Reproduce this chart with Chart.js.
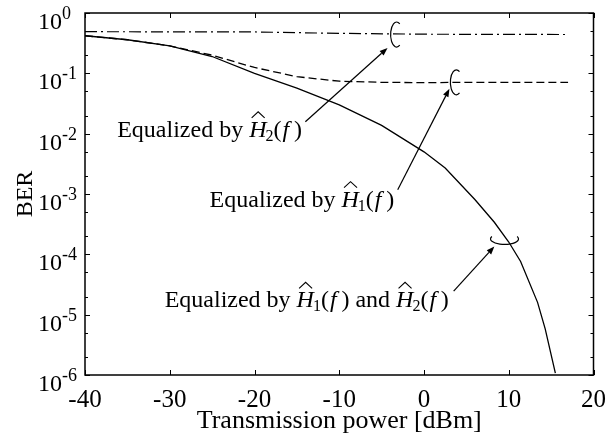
<!DOCTYPE html>
<html>
<head>
<meta charset="utf-8">
<script src="https://cdn.jsdelivr.net/npm/chart.js@4.4.1/dist/chart.umd.min.js"></script>
<style>
  html, body { margin: 0; padding: 0; background: #fff; }
  #wrap { width: 616px; height: 444px; }
</style>
</head>
<body>
<div id="wrap"><canvas id="c" width="616" height="444"></canvas></div>
<script>
// Transmission power [dBm] sample points and BER for each equalizer
const powerBoth = [-40, -35, -30, -25, -20, -15, -10, -5, 0, 2.5, 6, 8.3, 10, 11.4, 13.4, 14.3, 15.5];
const berBoth   = [0.42, 0.36, 0.285, 0.19, 0.10, 0.057, 0.030, 0.0137, 0.0050, 0.0027, 8.1e-4, 3.4e-4, 1.6e-4, 7.6e-5, 1.6e-5, 5.8e-6, 1.07e-6];

const powerH1 = [-40, -35, -30, -25, -20, -15, -10, -5, 0, 5, 10, 17];
const berH1   = [0.42, 0.36, 0.285, 0.20, 0.125, 0.088, 0.074, 0.071, 0.070, 0.071, 0.071, 0.071];

const powerH2 = [-40, -20, -10, 0, 17];
const berH2   = [0.49, 0.485, 0.46, 0.445, 0.44];

const xTicks = [-40, -30, -20, -10, 0, 10, 20];
const yExponents = [0, -1, -2, -3, -4, -5, -6];

const SERIF = '"Liberation Serif", "Times New Roman", serif';

function pts(xs, ys) { return xs.map((x, i) => ({ x: x, y: ys[i] })); }

// Callout anchors (data coordinates)
const curls = [
  { x: -3.35, y: 0.44, kind: 'left' },     // around the dash-dot curve
  { x: 3.7,   y: 0.071, kind: 'left' },    // around the dashed curve
  { x: 9.5,   y: 1.8e-4, kind: 'bottom' }  // around the solid curve
];
const arrows = [
  { from: { x: -14.0, y: 0.0158 }, to: { x: -4.3, y: 0.264 } },
  { from: { x: -3.1,  y: 0.00118 }, to: { x: 3.0, y: 0.0555 } },
  { from: { x: 3.5,   y: 2.45e-5 }, to: { x: 8.3, y: 1.35e-4 } }
];
const labels = [
  { x: -36.2, y: 0.0089, subs: ['2'] },
  { x: -25.3, y: 6.2e-4, subs: ['1'] },
  { x: -30.6, y: 1.33e-5, subs: ['1', '2'] }
];

function drawEqualized(ctx, x, y, subs) {
  const fs = 24;
  const roman = fs + 'px ' + SERIF;
  const italic = 'italic ' + fs + 'px ' + SERIF;
  const small = '16px ' + SERIF;
  ctx.fillStyle = '#000';
  ctx.textBaseline = 'alphabetic';
  ctx.textAlign = 'left';
  ctx.font = roman;
  ctx.fillText('Equalized by ', x, y);
  x += ctx.measureText('Equalized by ').width;
  subs.forEach((s, i) => {
    if (i > 0) {
      ctx.font = roman;
      ctx.fillText(' and ', x, y);
      x += ctx.measureText(' and ').width;
    }
    // hatted italic H
    ctx.font = italic;
    ctx.fillText('H', x, y);
    const wH = ctx.measureText('H').width;
    const capTop = y - 0.662 * fs;
    ctx.save();
    ctx.lineWidth = 1.1;
    ctx.strokeStyle = '#000';
    ctx.beginPath();
    ctx.moveTo(x + 2.5, capTop - 3);
    ctx.lineTo(x + 9, capTop - 9);
    ctx.lineTo(x + 15.5, capTop - 3);
    ctx.stroke();
    ctx.restore();
    x += wH - 1;
    ctx.font = small;
    ctx.fillText(s, x, y + 4);
    x += ctx.measureText(s).width;
    ctx.font = roman;
    ctx.fillText('(', x, y);
    x += ctx.measureText('(').width;
    ctx.font = italic;
    ctx.fillText('f', x + 1, y);
    x += ctx.measureText('f').width + 1;
    ctx.font = roman;
    ctx.fillText('\u2009)', x, y);
    x += ctx.measureText('\u2009)').width;
  });
}

const axesAndNotes = {
  id: 'axesAndNotes',
  afterDatasetsDraw(chart) {
    const ctx = chart.ctx;
    const xs = chart.scales.x, ys = chart.scales.y;
    const a = chart.chartArea;
    ctx.save();
    ctx.strokeStyle = '#000';
    ctx.fillStyle = '#000';

    // frame
    ctx.lineWidth = 1.5;
    ctx.strokeRect(a.left, a.top, a.right - a.left, a.bottom - a.top);

    // x ticks (inward, bottom and top)
    ctx.lineWidth = 1;
    ctx.beginPath();
    xTicks.forEach(v => {
      const px = Math.round(xs.getPixelForValue(v)) + 0.5;
      ctx.moveTo(px, a.bottom); ctx.lineTo(px, a.bottom - 5);
      ctx.moveTo(px, a.top); ctx.lineTo(px, a.top + 5);
    });
    // y ticks: decades and 2, 5 minors (inward, left and right)
    yExponents.forEach(e => {
      const py = Math.round(ys.getPixelForValue(Math.pow(10, e))) + 0.5;
      ctx.moveTo(a.left, py); ctx.lineTo(a.left + 5, py);
      ctx.moveTo(a.right, py); ctx.lineTo(a.right - 5, py);
      if (e < 0) {
        [2, 5].forEach(m => {
          const pm = Math.round(ys.getPixelForValue(m * Math.pow(10, e))) + 0.5;
          ctx.moveTo(a.left, pm); ctx.lineTo(a.left + 3, pm);
          ctx.moveTo(a.right, pm); ctx.lineTo(a.right - 3, pm);
        });
      }
    });
    ctx.stroke();

    // y tick labels 10^e : base "10" at a fixed left edge, exponent raised after it
    yExponents.forEach(e => {
      const py = ys.getPixelForValue(Math.pow(10, e));
      ctx.textBaseline = 'alphabetic';
      ctx.textAlign = 'left';
      const x0 = a.left - 47;
      ctx.font = '24px ' + SERIF;
      const wBase = ctx.measureText('10').width;
      ctx.fillText('10', x0, py + 16);
      ctx.font = '18px ' + SERIF;
      ctx.fillText(String(e), x0 + wBase, py + 6);
    });

    // curls around the curves
    ctx.lineWidth = 1.2;
    curls.forEach(c => {
      const cx = xs.getPixelForValue(c.x), cy = ys.getPixelForValue(c.y);
      ctx.beginPath();
      if (c.kind === 'left') {
        ctx.ellipse(cx + 1, cy, 6, 12.5, 0, Math.PI / 2 - 0.55, 3 * Math.PI / 2 + 0.55, false);
      } else {
        ctx.ellipse(cx, cy, 14, 5.5, 0, -0.45, Math.PI + 0.45, false);
      }
      ctx.stroke();
    });

    // arrows
    arrows.forEach(ar => {
      const x1 = xs.getPixelForValue(ar.from.x), y1 = ys.getPixelForValue(ar.from.y);
      const x2 = xs.getPixelForValue(ar.to.x), y2 = ys.getPixelForValue(ar.to.y);
      const ang = Math.atan2(y2 - y1, x2 - x1);
      const L = 8, W = 3;
      const bx = x2 - L * Math.cos(ang), by = y2 - L * Math.sin(ang);
      ctx.lineWidth = 1.2;
      ctx.beginPath();
      ctx.moveTo(x1, y1); ctx.lineTo(bx, by);
      ctx.stroke();
      ctx.beginPath();
      ctx.moveTo(x2, y2);
      ctx.lineTo(bx + W * Math.sin(ang), by - W * Math.cos(ang));
      ctx.lineTo(bx - W * Math.sin(ang), by + W * Math.cos(ang));
      ctx.closePath();
      ctx.fill();
    });

    // callout texts
    labels.forEach(l => {
      drawEqualized(ctx, xs.getPixelForValue(l.x), ys.getPixelForValue(l.y), l.subs);
    });
    ctx.restore();
  }
};

new Chart(document.getElementById('c'), {
  type: 'line',
  data: {
    datasets: [
      { label: 'H1 and H2', data: pts(powerBoth, berBoth), borderColor: '#000', borderWidth: 1.3, pointRadius: 0, tension: 0 },
      { label: 'H1', data: pts(powerH1, berH1), borderColor: '#000', borderWidth: 1.3, borderDash: [8, 4], pointRadius: 0, tension: 0 },
      { label: 'H2', data: pts(powerH2, berH2), borderColor: '#000', borderWidth: 1.2, borderDash: [12, 4, 2, 4], pointRadius: 0, tension: 0 }
    ]
  },
  options: {
    responsive: false,
    animation: false,
    events: [],
    layout: { padding: { top: 13, right: 12, left: 0, bottom: 0 } },
    plugins: { legend: { display: false }, tooltip: { enabled: false } },
    scales: {
      x: {
        type: 'linear', min: -40, max: 20,
        grid: { display: false, drawTicks: false },
        border: { display: false },
        ticks: { stepSize: 10, padding: 10, color: '#000', font: { family: SERIF, size: 25 }, maxRotation: 0 },
        title: { display: true, text: 'Transmission power [dBm]', color: '#000', font: { family: SERIF, size: 26 }, padding: { top: 0, bottom: 7 } },
        afterFit(s) { s.height = 69; }
      },
      y: {
        type: 'logarithmic', min: 1e-6, max: 1,
        grid: { display: false, drawTicks: false },
        border: { display: false },
        ticks: { display: false },
        title: { display: true, text: 'BER', color: '#000', font: { family: SERIF, size: 24 }, padding: { top: 11, bottom: 0 } },
        afterFit(s) { s.width = 85; }
      }
    }
  },
  plugins: [axesAndNotes]
});
</script>
</body>
</html>
